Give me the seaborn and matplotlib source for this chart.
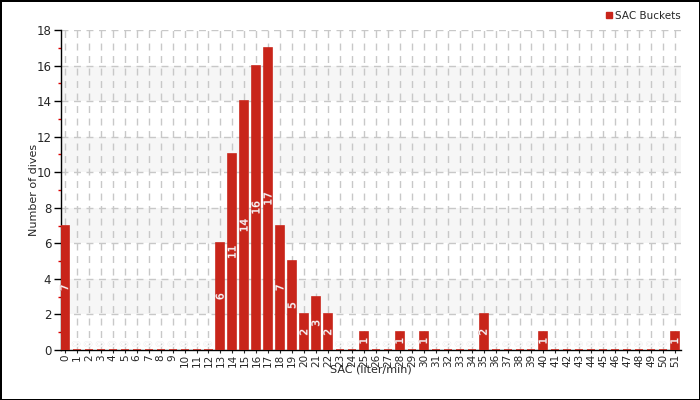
import numpy as np
import pandas as pd
import matplotlib
matplotlib.use("Agg")
import matplotlib.pyplot as plt
import matplotlib.patheffects as pe
from matplotlib.lines import Line2D
import seaborn as sns

# SAC buckets (liter/min) and number of dives in each
sac_buckets = [str(i) for i in range(52)]
dive_counts = [7, 0, 0, 0, 0, 0, 0, 0, 0, 0, 0, 0, 0, 6, 11, 14, 16, 17, 7, 5,
               2, 3, 2, 0, 0, 1, 0, 0, 1, 0, 1, 0, 0, 0, 0, 2, 0, 0, 0, 0,
               1, 0, 0, 0, 0, 0, 0, 0, 0, 0, 0, 1]
y_ticks = [0, 2, 4, 6, 8, 10, 12, 14, 16, 18]

bar_color = "#c8251a"

df = pd.DataFrame({"sac": sac_buckets, "dives": dive_counts})

sns.set_style("white")
plt.rcParams["font.family"] = ["DejaVu Sans"]

fig = plt.figure(figsize=(7, 4), dpi=100, linewidth=2, edgecolor="black")
ax = fig.add_axes([61 / 700, 50 / 400, 620 / 700, 320 / 400])

# alternating background bands
for lo in [2, 6, 10, 14]:
    ax.axhspan(lo, lo + 2, color="#f6f6f6", zorder=0, lw=0)

sns.barplot(data=df, x="sac", y="dives", order=sac_buckets, color=bar_color,
            saturation=1, width=0.67, edgecolor=bar_color, linewidth=1.2,
            ax=ax, zorder=3)

# value labels inside bars
stroke = [pe.withStroke(linewidth=0.7, foreground="#d08080")]
faint = [pe.withStroke(linewidth=0.6, foreground="#ececec")]
for i, v in enumerate(dive_counts):
    if v > 0:
        ax.text(i, v / 2, str(v), rotation=90, ha="center", va="center",
                color="white", fontsize=7.5, path_effects=stroke, zorder=4)
    else:
        ax.text(i, 0.15, str(v), rotation=90, ha="center", va="bottom",
                color="white", fontsize=7.5, path_effects=faint, zorder=4)

ax.set_xlim(-0.33, 51.5)
ax.set_ylim(0, 18)
ax.set_yticks(y_ticks)
ax.set_yticks(range(1, 18, 2), minor=True)
ax.tick_params(axis="y", which="major", length=5, width=1, color="black",
               labelsize=8.5, pad=2, left=True)
ax.tick_params(axis="y", which="minor", length=2, width=1, color="#dd0000",
               left=True)
ax.tick_params(axis="x", length=2, width=0.8, labelsize=7.5, rotation=90,
               pad=1, bottom=True)

ax.grid(True, axis="both", which="major", ls=(0, (5, 4)), color="#c8c8c8",
        lw=1, zorder=1)
ax.set_axisbelow(True)

for s in ["top", "right"]:
    ax.spines[s].set_visible(False)
for s in ["left", "bottom"]:
    ax.spines[s].set_color("black")
    ax.spines[s].set_linewidth(1)

ax.set_xlabel("SAC (liter/min)", fontsize=8)
ax.xaxis.set_label_coords(0.5, -0.045)
ax.set_ylabel("Number of dives", fontsize=8)
ax.yaxis.set_label_coords(-0.035, 0.5)

handle = Line2D([], [], ls="none", marker="s", markersize=5, color=bar_color)
fig.legend([handle], ["SAC Buckets"], loc="center left",
           bbox_to_anchor=(594 / 700, 1 - 16 / 400), frameon=False,
           fontsize=7.5, handletextpad=0.1, handlelength=1)

fig.savefig("out.png", dpi=100)
